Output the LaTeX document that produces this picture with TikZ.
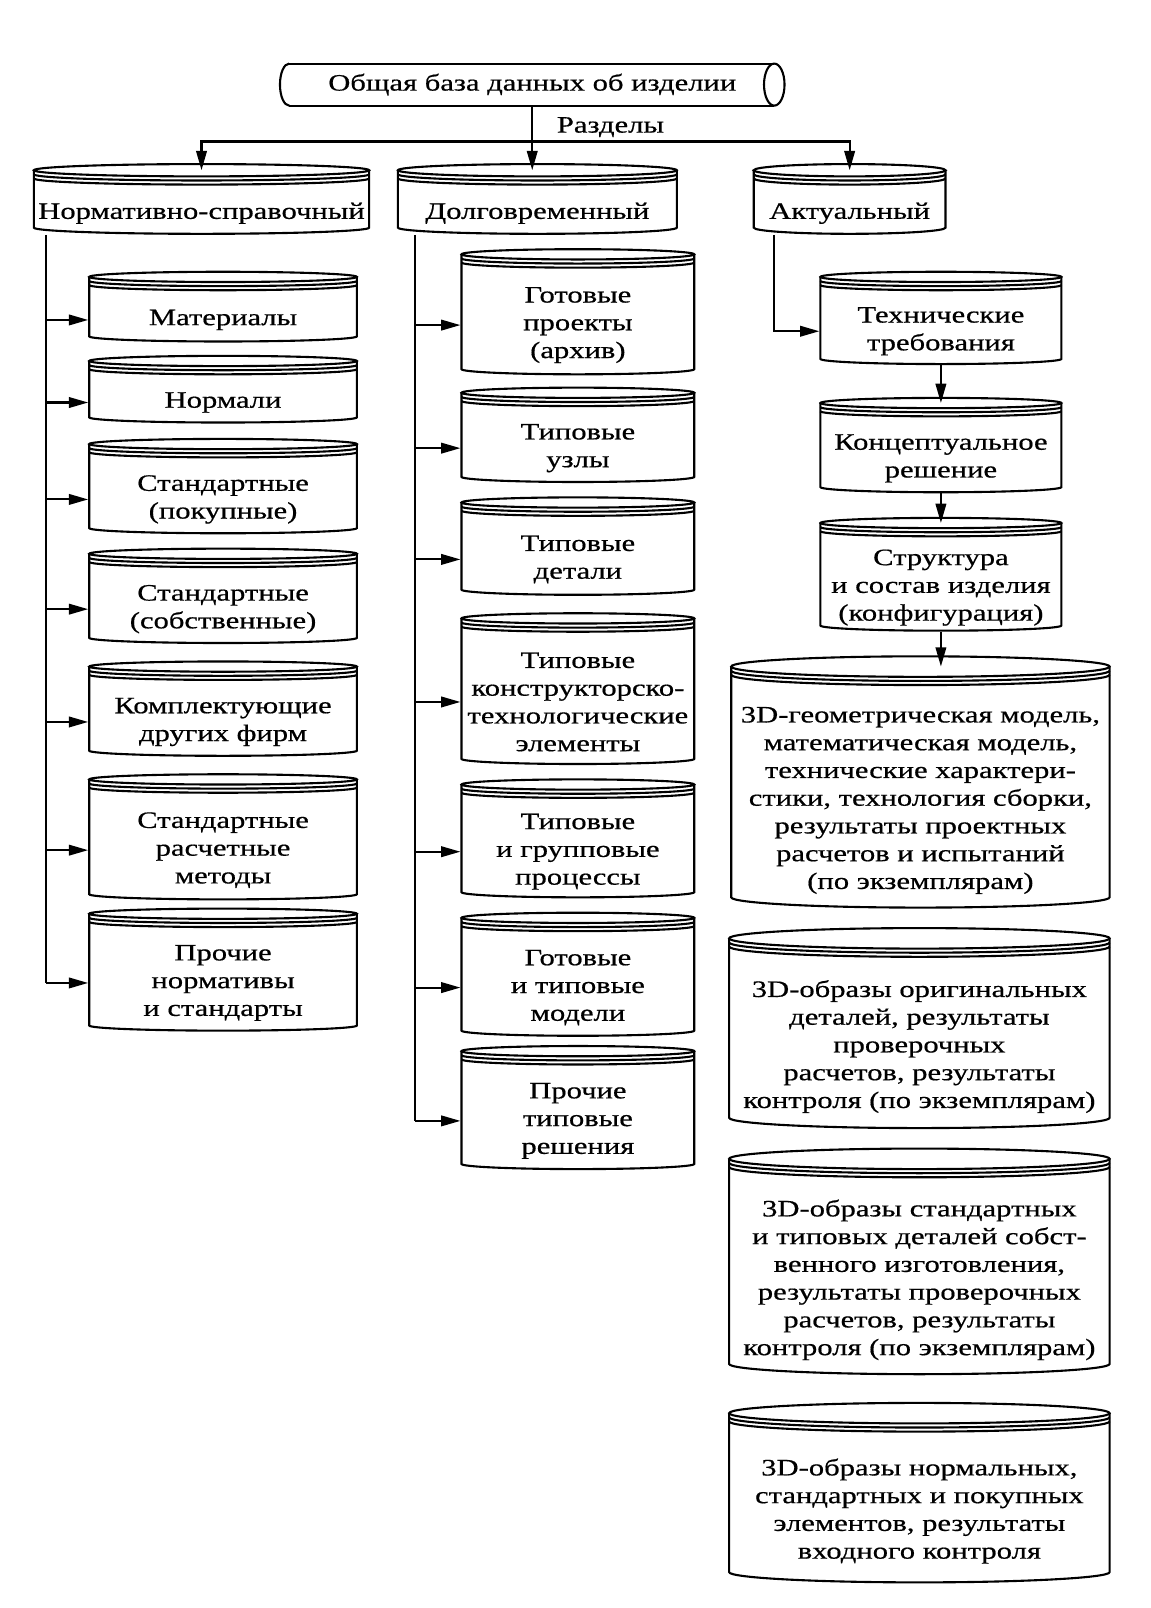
\documentclass[tikz,border=0pt]{standalone}
\usepackage{fontspec}
\setmainfont{Liberation Serif}[FakeStretch=1.3,FakeBold=0.6]
\usetikzlibrary{arrows.meta}

% one unit of the picture
\def\un{0.020516cm}

\tikzset{
  dbtext/.style={align=center, inner sep=0pt,
    font=\fontsize{13.4}{15.8}\selectfont},
  arr/.style={-{Triangle[length=11pt,width=6pt]}}
}

% cylinder: name, left, right, top, bottom, y radius, text
\newcommand{\dbcyl}[7]{%
  \pgfmathsetmacro{\cylcx}{(#2+#3)/2}
  \pgfmathsetmacro{\cylrx}{(#3-#2)/2}
  \pgfmathsetmacro{\cylbt}{#4+2*#6+16}
  \pgfmathsetmacro{\cylby}{(\cylbt+#5)/2}
  \pgfmathsetmacro{\cylbw}{#3-#2}
  \pgfmathsetmacro{\cylbh}{#5-\cylbt}
  \draw (#2,#4+#6) -- (#2,#5-#6)
    arc[start angle=180,end angle=0,x radius=\cylrx,y radius=#6] -- (#3,#4+#6);
  \draw (\cylcx,#4+#6) ellipse[x radius=\cylrx,y radius=#6];
  \draw (#2,#4+#6+4) arc[start angle=180,end angle=0,x radius=\cylrx,y radius=#6];
  \draw (#2,#4+#6+8) arc[start angle=180,end angle=0,x radius=\cylrx,y radius=#6];
  \node[dbtext, minimum width=\cylbw*\un, minimum height=\cylbh*\un]
    (#1) at (\cylcx,\cylby) {#7};
  \coordinate (#1-lid) at (\cylcx,#4+#6);
}

\begin{document}
\begin{tikzpicture}[x=\un, y=-\un, line width=1.2pt]
\useasboundingbox (0,0) rectangle (1122,1568);

% Общая база данных
\draw (282,62) -- (755,62);
\draw (282,103) -- (755,103);
\draw (282,62) arc[start angle=270,end angle=90,x radius=9,y radius=20.5];
\draw (755,82.5) ellipse[x radius=10,y radius=20.5];
\node[dbtext, minimum width=492*\un, minimum height=41*\un] (top)
  at (519,82.5) {Общая база данных об изделии};

\node[dbtext, anchor=west] (razd) at (542,124) {Разделы};

% Разделы
\dbcyl{nsp}{33}{360}{160}{228}{6}{Нормативно-справочный}
\dbcyl{dlg}{388}{660}{160}{228}{6}{Долговременный}
\dbcyl{akt}{735}{922}{160}{228}{6}{Актуальный}

\coordinate (split) at (519,138);
\draw[arr] (top.south) -- (top.south |- dlg-lid);
\draw[arr] (split) -| (nsp-lid);
\draw[arr] (split) -| (akt-lid);

% Нормативно-справочный
\dbcyl{mat}{87}{348}{265}{333}{5}{Материалы}
\dbcyl{nrm}{87}{348}{347}{412}{5}{Нормали}
\dbcyl{stp}{87}{348}{428}{520}{5}{Стандартные\\(покупные)}
\dbcyl{sts}{87}{348}{535}{627}{5}{Стандартные\\(собственные)}
\dbcyl{kmp}{87}{348}{645}{737}{5}{Комплектующие\\других фирм}
\dbcyl{srm}{87}{348}{755}{877}{5}{Стандартные\\расчетные\\методы}
\dbcyl{prn}{87}{348}{886}{1005}{5}{Прочие\\нормативы\\и стандарты}

\coordinate (lb) at (45,0);
\draw (nsp.south -| lb) -- (lb |- prn.west);
\foreach \n in {mat,nrm,stp,sts,kmp,srm,prn}
{
\draw[arr] (lb |- \n.west) -- (\n.west);
}

% Долговременный
\dbcyl{gpa}{450}{677}{243}{365}{5}{Готовые\\проекты\\(архив)}
\dbcyl{tuz}{450}{677}{378}{470}{5}{Типовые\\узлы}
\dbcyl{tdt}{450}{677}{485}{580}{5}{Типовые\\детали}
\dbcyl{tkt}{450}{677}{598}{745}{5}{Типовые\\конструкторско-\\технологические\\элементы}
\dbcyl{tgp}{450}{677}{760}{875}{5}{Типовые\\и групповые\\процессы}
\dbcyl{gtm}{450}{677}{890}{1010}{5}{Готовые\\и типовые\\модели}
\dbcyl{ptr}{450}{677}{1020}{1140}{5}{Прочие\\типовые\\решения}

\coordinate (mb) at (405,0);
\draw (dlg.south -| mb) -- (mb |- ptr.west);
\foreach \n in {gpa,tuz,tdt,tkt,tgp,gtm,ptr}
{
\draw[arr] (mb |- \n.west) -- (\n.west);
}

% Актуальный
\dbcyl{ttr}{800}{1035}{265}{355}{5}{Технические\\требования}
\dbcyl{knc}{800}{1035}{388}{480}{5}{Концептуальное\\решение}
\dbcyl{str}{800}{1035}{505}{615}{5}{Структура\\и состав изделия\\(конфигурация)}
\dbcyl{bga}{713}{1082}{640}{885}{10}{3D-геометрическая модель,\\математическая модель,\\технические характери-\\стики, технология сборки,\\результаты проектных\\расчетов и испытаний\\(по экземплярам)}
\dbcyl{bgb}{711}{1082}{905}{1100}{10}{3D-образы оригинальных\\деталей, результаты\\проверочных\\расчетов, результаты\\контроля (по экземплярам)}
\dbcyl{bgc}{711}{1082}{1120}{1340}{10}{3D-образы стандартных\\и типовых деталей собст-\\венного изготовления,\\результаты проверочных\\расчетов, результаты\\контроля (по экземплярам)}
\dbcyl{bgd}{711}{1082}{1368}{1543}{10}{3D-образы нормальных,\\стандартных и покупных\\элементов, результаты\\входного контроля}

\coordinate (rb) at (755,0);
\draw[arr] (akt.south -| rb) |- (ttr.west);
\draw[arr] (ttr.south) -- (knc-lid);
\draw[arr] (knc.south) -- (str-lid);
\draw[arr] (str.south) -- (str.south |- bga-lid);

\end{tikzpicture}
\end{document}
